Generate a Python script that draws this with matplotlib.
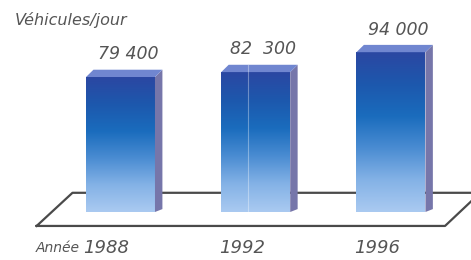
import numpy as np
import matplotlib
matplotlib.use("Agg")
import matplotlib.pyplot as plt
from matplotlib.patches import Polygon
from matplotlib.colors import LinearSegmentedColormap

# data
years = ["1988", "1992", "1996"]
vehicles = [79400, 82300, 94000]
value_labels = ["79 400", "82  300", "94 000"]

plt.rcParams['font.family'] = ['DejaVu Sans']
txt_color = "#555555"

fig = plt.figure(figsize=(4.71, 2.60), dpi=100)
ax = fig.add_axes([0, 0, 1, 1])
ax.set_xlim(-0.891, 2.592)
ax.set_ylim(-28230, 124700)
ax.axis("off")

x = np.arange(len(years))
width = 0.51
dx, dy = 0.055, 4300     # depth of the pseudo 3D bars

# floor (parallelogram), drawn behind the bars
floor_x = [-0.62, 2.40, 2.66, -0.355, -0.62]
floor_y = [-8200, -8200, 11300, 11300, -8200]
ax.plot(floor_x, floor_y, color="#4a4a4a", lw=1.6, zorder=1, clip_on=False)

grad = LinearSegmentedColormap.from_list(
    "bar", ["#aacaf1", "#84b2e6", "#4a8cd2", "#1a6cbd", "#1d58ad", "#2b47a2"])
img = np.linspace(0, 1, 256).reshape(-1, 1)

bars = ax.bar(x, vehicles, width=width, color="none", zorder=3)
for rect, h, lab in zip(bars, vehicles, value_labels):
    x0 = rect.get_x()
    x1 = x0 + rect.get_width()
    # gradient front face
    im = ax.imshow(img, cmap=grad, origin="lower", aspect="auto",
                   extent=[x0, x1, 0, h], zorder=3)
    im.set_clip_path(rect)
    # side face
    side = Polygon([(x1, 0), (x1 + dx, dy * 0.4), (x1 + dx, h + dy), (x1, h)],
                   closed=True, facecolor="#7676aa", edgecolor="none", zorder=3)
    ax.add_patch(side)
    # top face
    top = Polygon([(x0, h), (x1, h), (x1 + dx, h + dy), (x0 + dx, h + dy)],
                  closed=True, facecolor="#7086d0", edgecolor="none", zorder=3)
    ax.add_patch(top)
    ax.annotate(lab, (x0 + rect.get_width() / 2 + dx, h + dy), xytext=(0, 11),
                textcoords="offset points", ha="center", va="center",
                fontsize=12.5, style="italic", color=txt_color)

# faint scanning artefact on the middle bar
ax.plot([x[1] - 0.06, x[1] - 0.06], [0, vehicles[1] + dy], color="white",
        lw=0.8, alpha=0.35, zorder=4)

# year labels under the floor
for xi, yr in zip(x, years):
    ax.annotate(yr, (xi, -8200), xytext=(-10, -16), textcoords="offset points",
                ha="center", va="center", fontsize=13, style="italic",
                color=txt_color)
ax.annotate("Année", (x[0], -8200), xytext=(-29, -16), textcoords="offset points",
            ha="right", va="center", fontsize=10, style="italic", color=txt_color)

fig.text(0.032, 0.925, "Véhicules/jour", fontsize=11.5, style="italic",
         color=txt_color, ha="left", va="center")

fig.savefig("out.png", dpi=100)
